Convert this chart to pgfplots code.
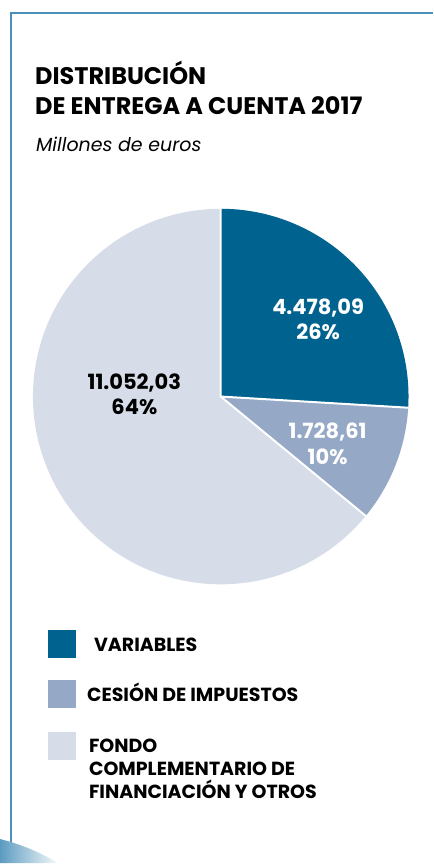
\documentclass[border=0pt]{standalone}
\usepackage{fontspec}
\setmainfont{Poppins}
\usepackage{pgfplots}
\usepackage{pgfplotstable}
\pgfplotsset{compat=1.18}
\definecolor{cvar}{RGB}{0,98,143}
\definecolor{cces}{RGB}{149,168,198}
\definecolor{cfon}{RGB}{215,220,233}
\definecolor{cframe}{RGB}{74,144,186}
\pgfplotstableread{
name value pct
Variables 4478.09 26
Cesion 1728.61 10
Fondo 11052.03 64
}\piedata
\begin{document}
\begin{tikzpicture}[x=1pt,y=1pt]
\path (0,0) rectangle (433,-864);
% frame
\draw[cframe, line width=2pt] (11,-864) -- (11,-13) -- (433,-13);
\shade[left color=cframe!90, right color=cframe!5] (0,-840) .. controls (20,-845) and (40,-853) .. (58,-864) -- (0,-864) -- cycle;
% titles
\node[anchor=base west, inner sep=0pt, font=\bfseries\fontsize{24}{28}\selectfont] at (35,-85) {DISTRIBUCIÓN};
\node[anchor=base west, inner sep=0pt, font=\bfseries\fontsize{24}{28}\selectfont] at (35,-115) {DE ENTREGA A CUENTA 2017};
\node[anchor=base west, inner sep=0pt, font=\itshape\fontsize{19}{23}\selectfont] at (36,-152) {Millones de euros};
% data
\pgfplotstablegetelem{0}{value}\of\piedata \pgfmathsetmacro\va{\pgfplotsretval/1000}
\pgfplotstablegetelem{1}{value}\of\piedata \pgfmathsetmacro\vb{\pgfplotsretval/1000}
\pgfplotstablegetelem{2}{value}\of\piedata \pgfmathsetmacro\vc{\pgfplotsretval/1000}
\pgfmathsetmacro\T{\va+\vb+\vc}
\pgfmathsetmacro\aA{90}
\pgfmathsetmacro\aB{90-360*\va/\T}
\pgfmathsetmacro\aC{\aB-360*\vb/\T}
\pgfmathsetmacro\aD{-270}
\def\R{188}
\begin{axis}[at={(221pt,-397pt)}, anchor=origin, x=1pt, y=1pt,
  xmin=-200, xmax=200, ymin=-200, ymax=200, hide axis, clip=false]
\fill[cvar] (axis cs:0,0) -- (axis cs:{\R*cos(\aA)},{\R*sin(\aA)}) arc[start angle=\aA, end angle=\aB, radius=\R pt] -- cycle;
\fill[cces] (axis cs:0,0) -- (axis cs:{\R*cos(\aB)},{\R*sin(\aB)}) arc[start angle=\aB, end angle=\aC, radius=\R pt] -- cycle;
\fill[cfon] (axis cs:0,0) -- (axis cs:{\R*cos(\aC)},{\R*sin(\aC)}) arc[start angle=\aC, end angle=\aD, radius=\R pt] -- cycle;
\draw[white, line width=2pt] (axis cs:{\R*cos(\aA)},{\R*sin(\aA)}) -- (axis cs:0,0) -- (axis cs:{\R*cos(\aB)},{\R*sin(\aB)});
\draw[white, line width=2pt] (axis cs:0,0) -- (axis cs:{\R*cos(\aC)},{\R*sin(\aC)});
\tikzset{lab/.style={anchor=base, inner sep=0pt, font=\bfseries\fontsize{21}{25}\selectfont}}
\node[lab, white] at (axis cs:97.5,82) {4.478,09};
\node[lab, white] at (axis cs:97.5,57) {26\%};
\node[lab, white] at (axis cs:107,-42) {1.728,61};
\node[lab, white] at (axis cs:107,-68) {10\%};
\node[lab, black] at (axis cs:-86.5,7) {11.052,03};
\node[lab, black] at (axis cs:-86.5,-18) {64\%};
\end{axis}
% legend
\fill[cvar] (48,-631) rectangle (76,-659);
\fill[cces] (48,-681) rectangle (76,-709);
\fill[cfon] (48,-733) rectangle (76,-761);
\tikzset{leg/.style={anchor=base west, inner sep=0pt, font=\bfseries\fontsize{19}{22.7}\selectfont}}
\node[leg] at (94,-652) {VARIABLES};
\node[leg] at (87,-702) {CESIÓN DE IMPUESTOS};
\node[leg] at (89,-753) {FONDO};
\node[leg] at (89,-776) {COMPLEMENTARIO DE};
\node[leg] at (89,-799) {FINANCIACIÓN Y OTROS};
\end{tikzpicture}
\end{document}
